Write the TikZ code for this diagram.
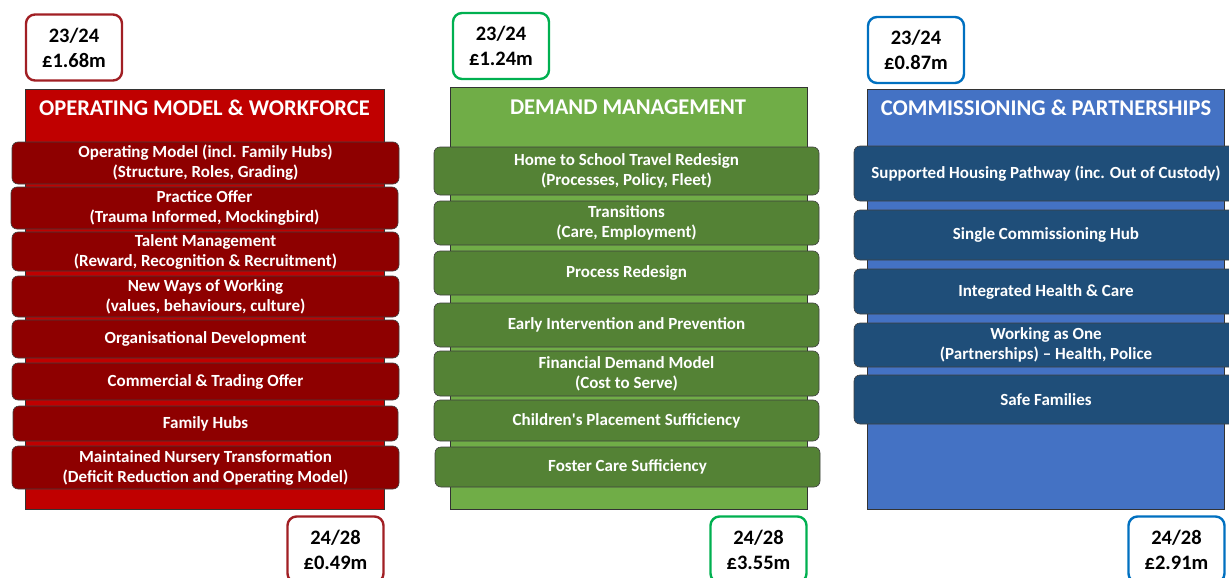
\documentclass[tikz,border=0pt]{standalone}
\usepackage{fontspec}
\setmainfont{Carlito}
\definecolor{omred}{HTML}{C00000}
\definecolor{omitem}{HTML}{8E0000}
\definecolor{omline}{HTML}{A11F24}
\definecolor{dmgreen}{HTML}{70AD47}
\definecolor{dmitem}{HTML}{548235}
\definecolor{dmline}{HTML}{00B050}
\definecolor{cpblue}{HTML}{4472C4}
\definecolor{cpitem}{HTML}{1F4E79}
\definecolor{cpline}{HTML}{0070C0}
\tikzset{
  panel/.style={fill=#1,draw=black!80,line width=0.6pt,inner sep=0pt},
  paneltitle/.style={text=white,font=\bfseries\fontsize{22.5}{26}\selectfont,inner sep=0pt},
  item/.style={fill=#1,draw=black!75,line width=0.6pt,rounded corners=6pt,text=white,
    align=center,font=\bfseries\fontsize{17}{20}\selectfont,inner sep=0pt},
  money/.style={draw=#1,line width=2.4pt,fill=white,rounded corners=9pt,align=center,
    font=\bfseries\fontsize{20.5}{25}\selectfont,inner sep=0pt,minimum width=96pt,minimum height=66pt}
}
\begin{document}
\begin{tikzpicture}[x=1pt,y=-1pt]
  \useasboundingbox (0,0) rectangle (1229,578);
  % operating model & workforce
  \node[money=omline] (omtop) at (74,47.5) {23/24\\£1.68m};
  \node[panel=omred,minimum width=359pt,minimum height=420pt] (ompanel) at (204.5,299) {};
  \node[paneltitle] (omtitle) at (204.5,108) {OPERATING MODEL \& WORKFORCE};
  \node[item=omitem,minimum width=387pt,minimum height=42pt] (om1) at (205.5,163) {Operating Model (incl. Family Hubs)\\(Structure, Roles, Grading)};
  \node[item=omitem,minimum width=387pt,minimum height=42pt] (om2) at (204.5,208) {Practice Offer\\(Trauma Informed, Mockingbird)};
  \node[item=omitem,minimum width=387pt,minimum height=39pt] (om3) at (205.5,251.5) {Talent Management\\(Reward, Recognition \& Recruitment)};
  \node[item=omitem,minimum width=387pt,minimum height=41pt] (om4) at (205.5,296.5) {New Ways of Working\\(values, behaviours, culture)};
  \node[item=omitem,minimum width=387pt,minimum height=38pt] (om5) at (205.5,339) {Organisational Development};
  \node[item=omitem,minimum width=387pt,minimum height=37pt] (om6) at (205.5,381.5) {Commercial \& Trading Offer};
  \node[item=omitem,minimum width=385pt,minimum height=35pt] (om7) at (205.5,423.5) {Family Hubs};
  \node[item=omitem,minimum width=387pt,minimum height=43pt] (om8) at (205.5,467.5) {Maintained Nursery Transformation\\(Deficit Reduction and Operating Model)};
  \node[money=omline] (ombottom) at (335.5,549.5) {24/28\\£0.49m};
  % demand management
  \node[money=dmline] (dmtop) at (501,46) {23/24\\£1.24m};
  \node[panel=dmgreen,minimum width=357pt,minimum height=422pt] (dmpanel) at (628.5,298) {};
  \node[paneltitle] (dmtitle) at (628,107) {DEMAND MANAGEMENT};
  \node[item=dmitem,minimum width=385pt,minimum height=48pt] (dm1) at (626.5,171) {Home to School Travel Redesign\\(Processes, Policy, Fleet)};
  \node[item=dmitem,minimum width=385pt,minimum height=44pt] (dm2) at (626.5,223) {Transitions\\(Care, Employment)};
  \node[item=dmitem,minimum width=385pt,minimum height=44pt] (dm3) at (626.5,273) {Process Redesign};
  \node[item=dmitem,minimum width=385pt,minimum height=44pt] (dm4) at (626.5,325) {Early Intervention and Prevention};
  \node[item=dmitem,minimum width=385pt,minimum height=45pt] (dm5) at (626.5,373.5) {Financial Demand Model\\(Cost to Serve)};
  \node[item=dmitem,minimum width=385pt,minimum height=41pt] (dm6) at (626.5,420.5) {Children\textquotesingle s Placement Sufficiency};
  \node[item=dmitem,minimum width=385pt,minimum height=40pt] (dm7) at (627.5,467) {Foster Care Sufficiency};
  \node[money=dmline] (dmbottom) at (758.5,549.5) {24/28\\£3.55m};
  % commissioning & partnerships
  \node[money=cpline] (cptop) at (916,50) {23/24\\£0.87m};
  \node[panel=cpblue,minimum width=357pt,minimum height=420pt] (cppanel) at (1045.5,299) {};
  \node[paneltitle] (cptitle) at (1046,108) {COMMISSIONING \& PARTNERSHIPS};
  \node[item=cpitem,minimum width=384pt,minimum height=55pt] (cp1) at (1046,173.5) {Supported Housing Pathway (inc. Out of Custody)};
  \node[item=cpitem,minimum width=384pt,minimum height=50pt] (cp2) at (1046,235) {Single Commissioning Hub};
  \node[item=cpitem,minimum width=384pt,minimum height=45pt] (cp3) at (1046,291.5) {Integrated Health \& Care};
  \node[item=cpitem,minimum width=384pt,minimum height=44pt] (cp4) at (1046,345) {Working as One\\(Partnerships) – Health, Police};
  \node[item=cpitem,minimum width=384pt,minimum height=49pt] (cp5) at (1046,399.5) {Safe Families};
  \node[money=cpline] (cpbottom) at (1176.5,549.5) {24/28\\£2.91m};
\end{tikzpicture}
\end{document}
